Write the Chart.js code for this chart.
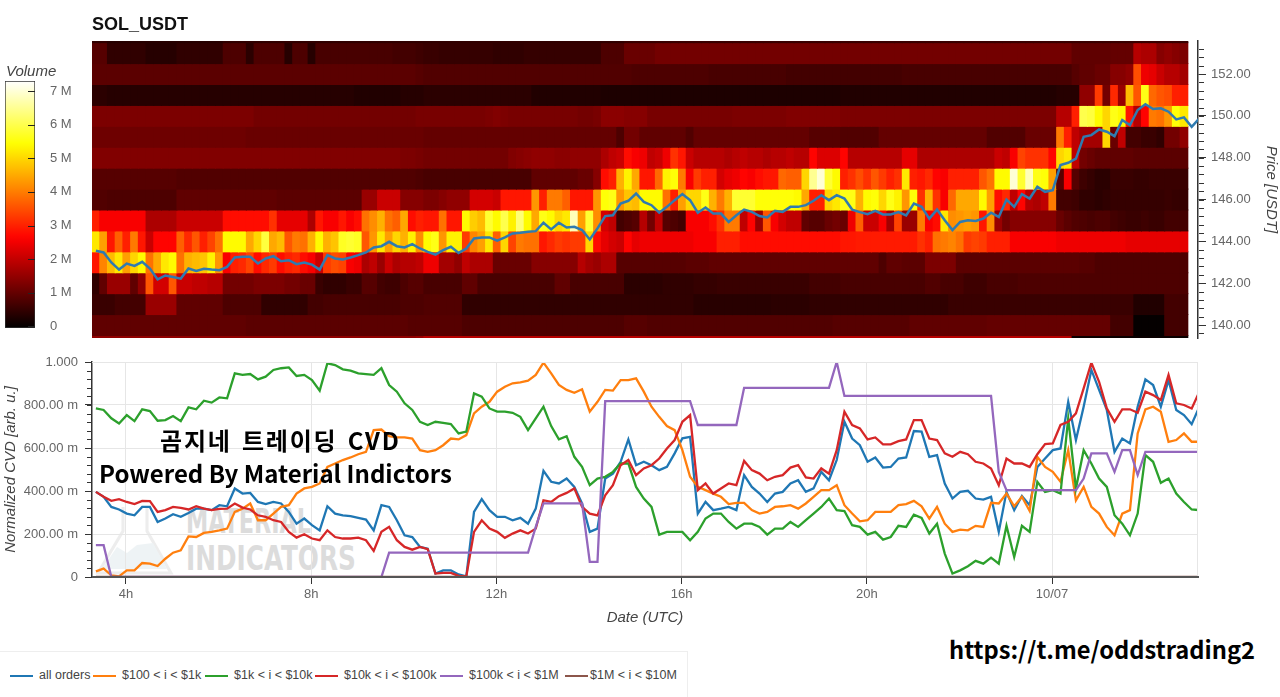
<!DOCTYPE html>
<html>
<head>
<meta charset="utf-8">
<title>SOL_USDT</title>
<script src="https://cdn.jsdelivr.net/npm/chart.js@4"></script>
<style>
  html, body { margin: 0; padding: 0; background: #fff; }
  #page { position: relative; width: 1280px; height: 697px; overflow: hidden; font-family: "Liberation Sans", Arial, sans-serif; }
  canvas { position: absolute; left: 0; }
  .txt { position: absolute; white-space: nowrap; }
  #title { left: 92px; top: 14px; font-size: 18px; font-weight: bold; color: #111; }
  #volTitle { left: 6px; top: 62px; font-size: 15px; font-style: italic; color: #444; }
  .over { font-family: "Noto Sans CJK KR", "Open Sans", sans-serif; font-weight: 700; color: #000; z-index: 5; }
  .wm { font-family: "DejaVu Sans Condensed", "DejaVu Sans", sans-serif; font-weight: bold; color: #dcdcdc; transform-origin: left top; }
  #legend { position: absolute; left: 0; top: 651px; width: 687px; height: 46px; border-top: 1px solid #eee; border-right: 1px solid #eee; }
  #legend div { position: absolute; top: 16px; font-size: 12.5px; color: #444; white-space: nowrap; }
  #legend i { position: absolute; top: 23px; height: 2px; width: 23px; }
</style>
</head>
<body>
<div id="page">
  <svg style="position:absolute;left:95px;top:505px;opacity:.7" width="82" height="74">
    <path d="M28 2 L28 26 L3 68 L76 68 L52 26 L52 2" fill="none" stroke="#e6e6e6" stroke-width="3"/>
    <path d="M7 64 L22 42 L32 48 L42 40 L58 38 L72 64 Z" fill="#e8eff2"/>
  </svg>
  <div class="txt wm" style="left:186px;top:501px;font-size:34px;transform:scaleX(.73)">MATERIAL</div>
  <div class="txt wm" style="left:186px;top:538px;font-size:34px;transform:scaleX(.81)">INDICATORS</div>
  <canvas id="heatChart" width="1280" height="358" style="top:0"></canvas>
  <canvas id="barChart" width="90" height="362" style="top:0"></canvas>
  <canvas id="cvdChart" width="1280" height="282" style="top:345px"></canvas>
  <div class="txt" id="title">SOL_USDT</div>
  <div class="txt" id="volTitle">Volume</div>
  <div class="txt over" style="left:160px;top:422px;font-size:24px;letter-spacing:1.8px;word-spacing:3px">곰지네 트레이딩 CVD</div>
  <div class="txt over" style="left:99px;top:455px;font-size:24px">Powered By Material Indictors</div>
  <div class="txt over" style="left:949px;top:632px;font-size:23.7px">https://t.me/oddstrading2</div>
  <div id="legend"></div>
</div>
<script>
// price rows of the heatmap, volume in M per 10 min column
const rowPrices = [154, 153, 152, 151, 150, 149, 148, 147, 146, 145, 144, 143, 142, 141, 140, 139];

const vol154 = [
0.5,0.5,0.4,0.4,0.4,0.4,0.4,0.4,0.4,0.4,0.4,0.4,0.4,0.4,0.4,0.4,0.4,0.5,0.5,0.5,
0.5,0.5,0.5,0.5,0.5,0.5,0.5,0.5,0.5,0.5,0.5,0.5,0.5,0.5,0.5,0.5,0.5,0.5,0.5,0.5,
0.5,0.5,0.5,0.5,0.5,0.5,0.5,0.5,0.5,0.5,0.5,0.5,0.5,0.5,0.5,0.5,0.5,0.5,0.5,0.5,
0.5,0.5,0.5,0.5,0.5,0.5,0.5,0.5,0.5,0.6,0.6,0.6,0.6,0.6,0.6,0.6,0.6,0.6,0.6,0.6,
0.6,0.6,0.6,0.6,0.6,0.6,0.6,0.6,0.6,0.6,0.6,0.6,0.6,0.6,0.6,0.6,0.6,0.6,0.6,0.6,
0.6,0.6,0.6,0.6,0.6,0.6,0.6,0.6,0.6,0.6,0.6,0.6,0.6,0.6,0.6,0.6,0.6,0.6,0.6,0.6,
0.6,0.6,0.6,0.6,0.6,0.6,0.6,0.6,0.6,0.6,0.6,0.6,0.6,0.6,0.6,0.6,0.6,0.6,0.6,0.6,
0.6,0.6];
const vol153 = [
0.9,0.9,0.5,0.5,0.5,0.5,0.5,0.4,0.4,0.4,0.4,0.5,0.5,0.5,0.5,0.5,0.5,0.8,0.8,0.8,
0.45,0.8,0.8,0.8,0.8,0.4,0.8,0.8,0.4,0.75,0.75,0.75,0.75,0.75,0.75,0.75,0.75,0.75,0.75,0.7,
0.7,0.7,0.65,0.6,0.6,0.55,0.55,0.55,0.55,0.55,0.55,0.55,0.5,0.5,0.5,0.5,0.55,0.55,0.55,0.55,
0.55,0.55,0.55,0.55,0.55,0.55,0.8,0.8,0.8,1.1,1.1,1.1,1.1,1.2,1.2,1.2,1.2,1.2,1.2,1.2,
1.2,1.2,1.2,1.2,1.2,1.2,1.2,1.2,1.2,1.2,1.2,1.2,1.2,1.2,1.2,1.2,1.2,1.2,1.2,1.2,
1.2,1.2,1.2,1.2,1.2,1.2,1.2,1.2,1.2,1.2,1.2,1.2,1.2,1.2,1.2,1.2,1.2,1.2,1.2,1.2,
1.2,1.2,1.2,1.2,1.2,1.2,1.2,1.0,1.0,1.0,1.0,1.0,1.05,1.05,1.05,1.9,1.8,1.8,1.4,1.5,
1.4,1.3];
const vol152 = [
0.95,0.95,0.95,0.95,0.95,0.95,0.95,0.95,0.95,0.95,0.95,0.95,0.95,0.95,0.95,0.95,0.95,0.95,0.95,0.95,
0.95,0.95,0.95,0.95,0.95,0.95,0.95,0.95,0.95,0.95,0.95,0.95,0.95,0.95,0.95,0.95,0.95,0.95,0.95,0.95,
0.95,0.95,0.9,0.85,0.85,0.85,0.85,0.85,0.85,0.85,0.85,0.85,0.85,0.85,0.85,0.85,0.85,0.85,0.85,0.85,
0.85,0.85,0.85,0.85,0.85,0.85,0.85,0.85,0.85,0.85,0.8,0.8,0.8,0.8,0.8,0.8,0.8,0.8,0.8,0.8,
0.75,0.75,0.75,0.75,0.75,0.75,0.75,0.75,0.75,0.75,0.7,0.7,0.7,0.7,0.7,0.7,0.7,0.7,0.7,0.7,
0.7,0.7,0.7,0.7,0.7,0.75,0.75,0.75,0.75,0.75,0.75,0.75,0.75,0.75,0.75,0.75,0.75,0.75,0.75,0.75,
0.75,0.75,0.75,0.75,0.75,0.75,0.75,0.9,1.0,1.0,1.1,1.1,1.4,1.4,1.5,3.5,2.5,2.4,2.1,1.9,
1.9,1.7];
const vol151 = [
0.45,0.45,0.4,0.4,0.4,0.4,0.4,0.4,0.4,0.4,0.4,0.4,0.4,0.4,0.4,0.4,0.4,0.4,0.4,0.4,
0.4,0.4,0.4,0.4,0.4,0.4,0.4,0.4,0.4,0.4,0.4,0.4,0.4,0.4,0.35,0.35,0.35,0.35,0.35,0.35,
0.4,0.4,0.4,0.45,0.45,0.45,0.45,0.45,0.45,0.45,0.45,0.45,0.45,0.45,0.45,0.45,0.45,0.35,0.35,0.35,
0.35,0.35,0.35,0.35,0.35,0.35,0.3,0.3,0.3,0.3,0.3,0.3,0.3,0.3,0.3,0.3,0.3,0.3,0.3,0.3,
0.3,0.3,0.3,0.3,0.3,0.3,0.3,0.3,0.3,0.3,0.3,0.3,0.3,0.3,0.3,0.3,0.3,0.35,0.35,0.35,
0.35,0.35,0.35,0.35,0.35,0.35,0.35,0.35,0.35,0.35,0.35,0.35,0.35,0.35,0.35,0.35,0.35,0.35,0.35,0.35,
0.35,0.35,0.35,0.35,0.35,0.4,0.4,0.4,1.5,1.5,3.3,1.2,3.1,1.6,4.7,3.6,5.6,3.8,3.6,3.5,
3.0,3.0];
const vol150 = [
1.3,1.3,1.3,1.3,1.3,1.3,1.3,1.3,1.3,1.3,1.3,1.3,1.3,1.3,1.3,1.3,1.3,1.3,1.3,1.3,
1.3,1.2,1.2,1.2,1.2,1.2,1.2,1.2,1.2,1.2,1.2,1.2,1.2,1.2,1.2,1.2,1.2,1.2,1.2,1.2,
1.2,1.2,1.25,1.25,1.25,1.25,1.25,1.25,1.25,1.25,1.25,1.3,1.35,1.3,1.25,1.25,1.25,1.25,1.25,1.25,
1.25,1.25,1.25,1.2,1.2,1.25,1.45,1.45,1.45,1.4,1.4,1.4,1.25,1.25,1.25,1.25,1.25,1.25,1.25,1.25,
1.25,1.25,1.25,1.3,1.3,1.3,1.3,1.3,1.3,1.3,1.35,1.35,1.35,1.35,1.35,1.35,1.35,1.3,1.3,1.3,
1.3,1.3,1.3,1.3,1.3,1.3,1.3,1.3,1.3,1.3,1.3,1.3,1.3,1.3,1.3,1.3,1.3,1.3,1.3,1.3,
1.3,1.3,1.3,1.3,1.3,1.9,1.9,3.0,6.0,5.9,5.4,5.0,5.6,5.4,2.9,1.9,2.7,4.0,3.9,4.3,
5.5,5.2];
const vol149 = [
1.15,1.15,1.15,1.15,1.15,1.15,1.15,1.15,1.15,1.15,1.15,1.15,1.15,1.15,1.15,1.15,1.15,1.15,1.15,1.15,
1.1,1.1,1.1,1.1,1.1,1.1,1.1,1.1,1.1,1.1,1.1,1.1,1.1,1.1,1.1,1.1,1.1,1.1,1.1,1.1,
1.1,1.1,1.1,1.05,1.05,1.05,1.05,1.05,1.05,1.05,1.05,1.05,1.05,1.05,1.05,1.05,1.05,1.05,1.05,1.05,
1.05,1.05,1.05,1.05,1.05,1.05,1.05,1.05,0.8,1.2,1.2,1.0,1.0,1.0,1.0,1.0,1.0,0.85,1.05,1.05,
1.05,1.05,1.05,1.05,1.05,1.05,1.05,1.05,1.05,1.05,1.05,1.05,1.05,0.9,0.9,0.9,0.9,0.85,0.85,0.85,
0.85,0.85,1.05,1.05,1.05,1.05,1.05,1.05,1.05,1.05,1.05,1.05,1.05,1.05,1.05,1.05,0.85,0.85,0.85,0.85,
0.85,1.1,1.1,1.1,1.1,4.0,3.0,2.0,1.7,1.7,1.7,5.0,1.1,2.0,0.7,0.7,0.6,0.6,0.5,1.2,
1.2,1.5];
const vol148 = [
1.35,1.35,1.35,1.35,1.35,1.35,1.35,1.35,1.35,1.35,1.35,1.35,1.35,1.35,1.35,1.35,1.35,1.35,1.35,1.35,
1.35,1.35,1.35,1.35,1.35,1.35,1.35,1.35,1.35,1.35,1.35,1.35,1.35,1.35,1.35,1.35,1.35,1.35,1.35,1.35,
1.3,1.3,1.25,1.2,1.2,1.2,1.2,1.2,1.2,1.2,1.2,1.2,1.2,1.2,1.35,1.4,1.45,1.5,1.5,1.5,
1.45,1.45,1.5,1.5,1.5,1.5,1.8,2.0,2.1,2.8,2.6,2.5,2.0,2.1,2.5,3.2,2.9,2.1,1.9,1.9,
1.9,1.9,1.8,1.9,2.0,1.9,1.9,1.8,1.9,1.9,2.0,1.9,1.9,2.7,2.3,2.3,2.3,2.7,1.9,1.9,
1.9,1.9,1.9,1.9,1.9,2.4,2.4,1.8,1.8,1.8,1.8,1.8,1.8,1.8,1.8,1.8,1.8,2.1,2.0,2.6,
3.4,3.2,3.2,3.2,2.7,5.0,5.2,2.0,1.2,1.1,1.0,1.0,1.0,1.0,1.0,0.95,0.95,0.95,0.95,0.95,
0.95,0.95];
const vol147 = [
0.9,0.9,0.9,0.9,0.9,0.9,0.9,0.9,0.9,0.9,0.9,0.85,0.85,0.85,0.85,0.85,0.85,0.85,0.85,0.85,
0.85,0.85,0.85,0.85,0.85,0.85,0.85,0.85,0.85,0.85,0.85,0.85,0.85,0.85,0.85,0.85,0.85,0.85,0.85,0.85,
0.85,0.85,0.8,0.75,0.75,0.75,0.75,0.75,0.75,0.75,0.75,0.75,0.75,0.75,0.75,0.75,0.75,1.0,1.0,1.0,
1.0,1.0,1.0,1.1,1.1,1.4,2.8,3.0,4.6,5.3,4.5,2.9,2.9,3.8,5.3,5.5,4.0,2.6,3.3,3.0,
3.0,2.2,2.4,2.5,2.7,2.6,2.8,2.9,2.9,3.8,3.7,3.7,5.0,6.5,7.0,5.8,5.4,3.0,3.2,3.5,
3.2,3.6,3.3,3.0,3.2,5.2,3.0,2.9,3.1,2.7,2.6,3.0,3.0,3.0,3.0,3.6,3.9,5.4,5.4,7.0,
5.8,6.8,5.6,5.5,4.4,0.95,2.6,0.9,0.65,0.55,0.45,0.45,0.6,0.6,0.6,0.55,0.55,0.6,0.6,0.6,
0.6,0.6];
const vol146 = [
0.85,0.85,0.8,0.8,0.8,0.8,0.8,0.8,0.8,0.8,0.8,1.0,1.0,1.0,1.0,1.0,1.0,1.0,1.0,1.0,
1.0,1.0,1.0,1.0,0.95,0.95,0.95,0.95,0.95,0.95,0.95,0.95,0.95,0.95,0.95,1.6,1.6,2.1,2.1,2.1,
1.4,1.4,1.4,1.3,1.3,1.4,1.5,1.5,1.5,2.2,2.2,2.2,2.1,2.9,2.9,2.9,2.9,4.3,3.0,4.0,
4.0,3.7,2.9,2.9,2.9,4.3,5.5,5.6,4.3,4.8,4.7,5.4,5.4,5.4,3.9,3.0,4.4,5.0,5.0,5.6,
4.6,4.0,4.6,5.8,5.8,5.8,5.5,5.5,5.5,5.5,5.5,5.4,4.5,3.0,3.0,5.0,5.2,5.6,5.6,4.6,
5.4,5.5,5.0,5.6,5.3,4.3,5.5,3.2,4.6,3.2,2.6,3.8,4.5,4.5,4.5,5.4,4.4,2.8,3.1,2.0,
2.7,1.9,1.8,2.0,4.0,0.7,0.7,0.65,0.5,0.5,0.45,0.5,0.55,0.55,0.55,0.55,0.55,0.55,0.55,0.6,
0.55,0.55];
const vol145 = [
3.0,2.6,2.6,2.6,2.6,2.6,2.6,1.8,1.8,1.8,1.8,2.1,2.1,2.1,2.1,2.1,2.1,2.8,2.8,2.8,
2.8,2.8,2.8,3.2,2.4,2.4,2.4,2.4,1.8,2.9,2.6,2.6,2.9,2.6,2.8,3.9,4.2,4.6,3.9,3.7,
4.5,2.8,3.0,2.9,2.9,3.9,2.9,2.9,5.4,4.9,4.7,5.8,5.4,6.0,5.3,6.3,5.4,4.5,5.6,5.4,
5.0,5.2,6.8,4.4,5.8,4.2,2.2,2.0,0.7,0.8,0.9,1.9,1.2,2.0,0.9,0.8,0.7,2.6,2.6,2.6,
2.8,3.2,4.0,4.0,2.0,2.7,1.6,3.6,2.6,2.2,2.0,2.0,1.0,0.9,0.9,1.1,1.2,1.1,2.5,3.7,
2.1,2.1,2.6,1.7,3.4,1.6,1.6,4.0,2.6,2.8,5.2,4.2,4.3,4.4,4.3,2.9,4.2,1.6,1.2,1.4,
1.4,1.4,1.4,1.4,1.4,1.1,0.95,0.85,0.8,0.75,0.8,0.8,0.7,0.65,0.6,0.6,0.65,0.6,0.6,0.7,
0.7,0.7];
const vol144 = [
5.2,4.4,2.9,3.7,3.0,4.0,2.9,2.1,2.7,2.7,2.7,3.7,3.1,3.6,3.0,3.4,3.9,5.4,5.4,5.4,
4.5,5.0,5.9,4.5,4.7,3.6,4.0,3.9,4.6,5.4,4.6,4.8,5.7,5.8,5.7,3.6,4.3,5.2,4.4,5.0,
4.6,5.3,4.2,5.4,5.6,4.3,5.3,5.3,3.3,4.1,4.4,5.2,3.7,5.0,3.4,4.0,3.9,3.9,2.9,3.1,
3.3,3.2,3.3,3.3,5.0,2.8,2.4,2.2,2.1,2.7,2.4,2.5,2.5,2.5,2.5,2.5,2.5,2.5,2.6,2.6,
2.6,3.0,3.0,3.0,2.8,2.8,2.8,2.8,2.8,2.8,2.8,2.8,2.8,2.8,2.8,2.8,2.8,2.9,2.9,2.95,
2.95,2.95,2.95,2.95,2.95,2.95,2.95,3.2,3.0,3.9,4.0,4.1,3.9,3.3,3.4,3.3,3.0,3.0,3.0,2.6,
2.6,2.6,2.6,2.6,2.6,2.5,2.5,2.5,2.5,2.5,2.5,2.5,2.5,2.5,2.4,2.4,2.4,2.4,2.4,2.4,
2.4,2.4];
const vol143 = [
2.9,4.1,4.7,5.2,4.4,5.0,5.4,3.9,4.5,5.2,5.4,3.9,4.6,4.7,4.8,5.3,4.3,2.6,3.0,3.1,
3.4,2.8,3.1,3.3,2.8,3.0,3.1,2.8,2.6,2.1,3.3,3.5,3.4,2.6,2.5,1.8,2.0,1.6,2.1,1.8,
1.9,1.9,2.0,2.5,2.5,1.7,1.7,1.5,2.0,1.8,1.8,1.8,1.1,1.1,1.1,1.1,1.1,1.4,1.4,1.4,
1.4,1.4,1.4,1.9,1.7,1.6,1.8,1.8,0.9,0.9,0.9,0.9,0.9,0.9,0.9,0.9,0.9,0.95,0.95,0.95,
1.0,1.0,1.0,1.0,1.0,1.0,1.0,1.0,1.0,1.0,1.0,1.0,1.0,1.0,1.0,1.0,1.0,1.0,1.0,1.0,
1.0,1.0,0.8,1.0,1.0,0.95,0.95,0.95,1.3,1.3,1.3,1.3,0.95,0.95,0.95,0.95,0.95,0.95,0.95,0.95,
0.95,0.95,0.95,0.95,0.95,0.95,0.95,0.95,0.9,0.9,0.8,0.8,0.8,0.8,0.8,0.8,0.8,0.8,0.8,0.8,
0.8,0.8];
const vol142 = [
0.5,1.0,1.6,1.6,1.6,1.0,1.5,3.6,2.2,2.2,3.6,2.1,2.1,2.0,2.0,1.9,1.9,1.2,1.2,1.2,
1.2,1.3,1.3,1.3,1.3,1.2,1.2,1.1,1.1,0.6,0.5,0.5,0.5,0.6,0.6,0.9,0.9,0.7,0.65,0.65,
0.8,0.9,0.9,0.75,0.75,0.75,0.75,0.75,1.0,1.0,0.75,0.75,0.75,0.75,0.75,0.75,0.75,0.75,0.75,0.75,
1.0,1.0,0.75,0.75,0.75,0.75,0.75,0.75,0.75,0.45,0.45,0.45,0.45,0.45,0.5,0.5,0.5,0.5,0.55,0.55,
0.55,0.6,0.6,0.6,0.6,0.6,0.6,0.6,0.6,0.6,0.6,0.6,0.6,0.7,0.7,0.7,0.7,0.75,0.75,0.75,
0.75,0.75,0.75,0.75,0.75,0.75,0.75,0.75,0.85,0.85,0.75,0.75,0.75,0.65,0.65,0.65,0.75,0.75,0.75,0.75,
0.8,0.8,0.8,0.8,0.8,0.8,0.8,0.8,0.8,0.8,0.8,0.8,0.8,0.8,0.8,0.8,0.8,0.8,0.8,0.8,
0.8,0.8];
const vol141 = [
0.6,0.6,0.6,0.7,0.7,0.7,0.7,1.6,1.6,1.6,1.6,1.0,1.0,1.0,1.0,1.0,1.0,0.8,0.8,0.8,
0.8,0.8,0.5,0.5,0.5,0.5,0.5,0.5,0.7,0.7,0.75,0.75,0.75,0.75,0.75,0.75,0.75,0.75,0.75,0.75,
0.8,0.8,0.8,0.85,0.85,0.85,0.85,0.85,0.5,0.5,0.5,0.5,0.5,0.5,0.5,0.5,0.5,0.5,0.5,0.5,
0.5,0.5,0.5,0.5,0.5,0.5,0.5,0.5,0.5,0.5,0.5,0.5,0.5,0.5,0.5,0.5,0.5,0.5,0.42,0.42,
0.42,0.42,0.42,0.42,0.42,0.42,0.42,0.42,0.45,0.45,0.45,0.45,0.45,0.5,0.5,0.5,0.5,0.5,0.5,0.5,
0.5,0.5,0.5,0.5,0.5,0.5,0.5,0.5,0.5,0.5,0.5,0.6,0.6,0.6,0.6,0.6,0.6,0.6,0.6,0.6,
0.6,0.6,0.6,0.6,0.6,0.6,0.6,0.6,0.6,0.6,0.6,0.6,0.6,0.6,0.6,0.35,0.35,0.35,0.35,0.7,
0.7,0.7];
const vol140 = [
1.0,1.0,1.0,1.0,1.0,1.0,1.0,1.0,1.0,1.0,1.0,1.0,1.0,1.0,1.0,1.0,1.0,1.0,1.0,1.0,
0.95,0.95,0.95,0.95,0.95,0.95,0.95,0.95,0.95,0.95,0.95,0.95,0.95,0.95,0.95,0.95,0.95,0.95,0.95,0.95,
0.95,0.9,0.9,0.9,0.9,0.9,0.9,0.9,0.8,0.8,0.8,0.8,0.8,0.8,0.8,0.8,0.8,0.8,0.8,0.8,
0.8,0.8,0.8,0.8,0.8,0.8,0.8,0.8,0.8,0.9,0.9,0.9,0.85,0.85,0.85,0.85,0.85,0.85,0.85,0.85,
0.85,0.85,0.85,0.85,0.85,0.85,0.85,0.85,0.85,0.85,0.85,0.85,0.85,0.85,0.85,0.85,0.9,0.9,0.9,0.9,
0.9,0.9,0.9,0.9,0.9,0.9,1.0,1.0,1.0,1.0,1.0,1.0,1.0,1.0,1.0,1.0,1.05,1.05,1.05,1.05,
1.05,1.05,1.05,1.05,1.05,1.05,1.05,1.05,1.05,1.05,1.05,1.05,0.7,0.7,0.7,0.05,0.05,0.05,0.05,0.7,
0.7,0.7];
const vol139 = [
1.5,1.5,1.5,1.5,1.5,1.5,1.5,1.5,1.5,1.5,1.5,1.5,1.5,1.5,1.5,1.5,1.5,1.5,1.5,1.5,
1.5,1.5,1.5,1.5,1.5,1.5,1.5,1.5,1.5,1.5,1.5,1.5,1.5,1.5,1.5,1.5,1.5,1.5,1.5,1.5,
1.5,1.5,1.6,1.9,1.9,1.9,1.9,1.9,1.9,1.9,1.9,1.9,1.9,1.9,1.9,1.9,1.9,1.9,1.9,1.9,
1.9,1.9,1.9,1.9,1.9,1.9,1.9,1.9,1.9,1.9,1.9,1.9,1.9,1.9,1.9,1.9,1.9,1.9,1.9,1.9,
1.9,1.9,1.9,1.9,1.9,1.9,1.9,1.9,1.9,1.9,1.9,1.9,1.9,1.9,1.9,1.9,1.9,1.9,1.9,1.9,
1.9,1.9,1.9,1.9,1.9,1.9,1.9,1.9,1.9,1.9,1.9,1.9,1.9,1.9,1.9,1.9,1.9,1.9,1.9,1.9,
1.9,1.9,1.9,1.9,1.9,1.9,1.9,0.1,0.1,0.1,0.1,0.1,0.1,0.1,0.1,0.1,0.1,0.1,0.1,0.1,
0.1,0.1];
const volumeRows = [vol154, vol153, vol152, vol151, vol150, vol149, vol148, vol147, vol146, vol145, vol144, vol143, vol142, vol141, vol140, vol139];

// last price, one point per 10 min
const price = [
143.55,143.47,142.99,142.65,142.94,142.83,143.02,142.70,142.18,142.37,142.30,142.22,142.70,142.59,142.69,142.65,142.62,142.78,143.23,143.26,
143.26,142.94,143.18,143.29,143.05,143.10,142.91,142.99,142.89,142.65,143.34,143.18,143.13,143.23,143.34,143.47,143.71,143.77,143.98,143.77,
143.71,143.87,143.66,143.50,143.37,143.58,143.74,143.45,143.66,144.14,144.19,144.19,144.03,144.19,144.38,144.41,144.46,144.49,144.89,144.57,
144.89,144.66,144.70,144.54,144.09,144.62,145.21,145.25,145.81,145.94,146.29,145.89,145.73,145.37,145.65,145.97,146.26,145.97,145.37,145.62,
145.33,145.33,144.93,145.25,145.52,145.41,145.21,145.14,145.46,145.41,145.65,145.65,145.73,145.94,146.21,145.97,146.21,146.05,145.52,145.40,
145.30,145.46,145.29,145.29,145.40,145.24,145.81,145.65,145.09,145.52,145.01,144.54,144.93,145.01,144.98,145.09,145.37,145.17,146.00,145.65,
146.26,146.05,146.61,146.37,146.45,147.65,147.76,147.96,149.00,149.08,149.35,149.24,149.03,149.80,149.56,150.28,150.56,150.33,150.36,150.20,
149.83,149.93,149.48,149.88];

// normalized CVD in milli units, one point per 10 min
const cvdAll = [
396,373,326,314,295,287,326,326,256,272,292,280,298,318,318,311,334,329,412,388,
391,349,339,349,342,303,248,272,241,217,329,295,287,283,275,267,217,334,326,264,
194,186,140,132,16,31,31,12,3,303,362,311,280,280,264,275,248,318,494,443,
435,458,419,342,210,225,458,481,536,640,520,536,520,497,512,575,645,652,295,349,
311,318,326,311,474,419,388,349,388,396,435,450,396,412,489,450,544,722,644,613,
536,556,509,512,551,556,679,676,559,567,435,365,396,401,365,360,373,210,396,311,
377,334,512,551,590,598,815,637,792,963,870,777,582,644,621,792,919,893,792,916,
777,753,711,792];
const cvd100 = [
26,39,8,3,31,31,65,62,51,85,113,124,189,186,205,210,217,225,303,318,
342,264,264,295,326,334,388,412,419,435,512,528,544,556,571,582,683,686,655,649,
649,644,590,582,590,613,644,640,660,761,792,815,862,885,901,905,913,940,997,947,
893,870,857,873,769,815,870,867,916,916,924,862,792,745,702,683,590,466,419,404,
388,373,339,345,345,311,295,303,326,329,334,318,342,373,404,404,427,334,295,259,
264,303,303,303,334,339,354,329,272,326,248,210,220,217,238,233,345,342,388,329,
373,307,559,512,489,443,590,357,419,326,295,233,194,295,311,668,780,792,769,629,
637,668,629,629];
const cvd1k = [
784,777,738,714,753,725,780,772,727,730,749,725,789,780,820,811,835,831,947,940,
944,919,932,963,971,975,935,940,916,867,994,986,966,960,947,944,940,971,893,862,
808,777,722,707,722,717,711,668,676,854,839,784,769,769,764,745,683,738,792,702,
640,655,559,512,427,458,466,489,528,528,419,365,326,197,210,210,210,171,210,272,
295,295,256,225,248,248,233,197,225,225,256,233,264,295,326,365,311,307,241,233,
197,210,174,186,238,233,290,275,202,248,109,16,31,50,75,62,90,62,238,93,
238,210,443,396,404,388,738,412,590,528,458,419,287,248,194,295,567,536,438,458,
388,349,314,311];
const cvd10k = [
396,373,354,362,349,339,354,353,303,311,326,321,314,329,318,311,317,318,342,323,
314,287,280,264,256,210,183,199,179,171,217,186,179,179,183,171,121,210,233,171,
140,127,140,129,16,19,19,5,3,210,264,225,210,182,202,217,202,225,357,349,
376,391,412,326,295,287,380,427,520,544,474,505,520,551,598,637,722,753,404,435,
388,412,435,427,540,497,481,450,466,474,509,520,463,458,505,481,590,769,707,691,
640,649,617,617,632,640,730,730,644,637,575,559,582,571,536,528,505,427,551,528,
528,512,571,618,621,707,722,761,877,997,908,784,722,780,780,764,862,846,823,940,
808,800,784,862];
const cvd100k = [
148,148,0,0,0,0,0,0,0,0,0,0,0,0,0,0,0,0,0,0,
0,0,0,0,0,0,0,0,0,0,0,0,0,0,0,0,0,0,113,113,
113,113,113,113,113,113,113,113,113,113,113,113,113,113,113,113,113,233,342,342,
342,342,342,342,70,70,818,818,818,818,818,818,818,818,818,818,818,818,707,707,
707,707,707,707,880,880,880,880,880,880,880,880,880,880,880,880,1000,842,842,842,
842,842,842,842,842,842,842,842,842,842,842,842,842,842,842,842,842,489,404,404,
404,404,404,404,404,404,404,404,458,575,575,575,489,590,590,474,582,582,582,582,
582,582,582,582];
const cvd1m = [
0,0,0,0,0,0,0,0,0,0,0,0,0,0,0,0,0,0,0,0,
0,0,0,0,0,0,0,0,0,0,0,0,0,0,0,0,0,0,0,0,
0,0,0,0,0,0,0,0,0,0,0,0,0,0,0,0,0,0,0,0,
0,0,0,0,0,0,0,0,0,0,0,0,0,0,0,0,0,0,0,0,
0,0,0,0,0,0,0,0,0,0,0,0,0,0,0,0,0,0,0,0,
0,0,0,0,0,0,0,0,0,0,0,0,0,0,0,0,0,0,0,0,
0,0,0,0,0,0,0,0,0,0,0,0,0,0,0,0,0,0,0,0,
0,0,0,0];

const seriesNames = ['all orders', '$100 < i < $1k', '$1k < i < $10k', '$10k < i < $100k', '$100k < i < $1M', '$1M < i < $10M'];
const seriesColors = ['#1f77b4', '#ff7f0e', '#2ca02c', '#d62728', '#9467bd', '#8c564b'];
const seriesValues = [cvdAll, cvd100, cvd1k, cvd10k, cvd100k, cvd1m];

const hourTicks = [4, 8, 12, 16, 20, 24];
const hourLabels = ['4h', '8h', '12h', '16h', '20h', '10/07'];
const priceTicks = [140, 142, 144, 146, 148, 150, 152];
const cvdTicks = [0, 200, 400, 600, 800, 1000];
const cvdLabels = ['0', '200.00 m', '400.00 m', '600.00 m', '800.00 m', '1.000'];
const volTicks = [0, 1, 2, 3, 4, 5, 6, 7];

const VMAX = 7.3;
const HOUR_MIN = 3.266, HOUR_MAX = 27.153;
const times = price.map((p, i) => 3.35 + i / 6);

function clamp01(v) { return Math.max(0, Math.min(1, v)); }
function hot(v) {
    const t = v / VMAX;
    const r = clamp01(t / 0.365), g = clamp01((t - 0.365) / 0.381), b = clamp01((t - 0.746) / 0.254);
    return `rgb(${Math.round(r * 255)},${Math.round(g * 255)},${Math.round(b * 255)})`;
}

// small ticks between the big ones, bokeh style
const minorTicks = {
    id: 'minorTicks',
    afterDraw(chart, args, opts) {
        const s = chart.scales.y, c = chart.ctx;
        c.save();
        c.strokeStyle = '#333';
        c.lineWidth = 1;
        for (let v = opts.start; v <= s.max; v += opts.step) {
            const y = Math.round(s.getPixelForValue(v)) + 0.5;
            c.beginPath();
            c.moveTo(opts.x0, y);
            c.lineTo(opts.x1, y);
            c.stroke();
        }
        if (opts.frame) {
            const a = chart.chartArea;
            c.strokeStyle = '#e6e6e6';
            c.beginPath();
            c.moveTo(a.left, a.top + 0.5);
            c.lineTo(a.right - 0.5, a.top + 0.5);
            c.lineTo(a.right - 0.5, a.bottom);
            c.stroke();
            // the axis sits on top of the flat series
            c.strokeStyle = '#555';
            c.lineWidth = 2;
            c.beginPath();
            c.moveTo(a.left, a.bottom);
            c.lineTo(a.right, a.bottom);
            c.stroke();
        }
        c.restore();
    }
};

const fontTick = { family: '"Liberation Sans", Arial, sans-serif', size: 13 };
const fontTitle = { family: '"Liberation Sans", Arial, sans-serif', size: 15, style: 'italic' };

// ---- heatmap + price line
const heatSets = volumeRows.map((row, r) => ({
    type: 'bar',
    grouped: false,
    order: 1,
    data: row.map((v, i) => ({ x: times[i], y: [rowPrices[r] - 0.5, rowPrices[r] + 0.5] })),
    backgroundColor: row.map(hot),
    borderWidth: 0,
    inflateAmount: 0.5,
    barPercentage: 1,
    categoryPercentage: 1
}));

new Chart(document.getElementById('heatChart'), {
    type: 'bar',
    data: {
        datasets: heatSets.concat([{
            type: 'line',
            order: 0,
            data: price.map((p, i) => ({ x: times[i], y: p })),
            borderColor: '#2f7bb0',
            borderWidth: 2.5,
            pointRadius: 0,
            tension: 0
        }])
    },
    options: {
        responsive: false,
        animation: false,
        layout: { padding: { left: 92, top: 41, bottom: 20 } },
        plugins: { legend: { display: false }, tooltip: { enabled: false }, minorTicks: { start: 139.6, step: 0.4, x0: 1199, x1: 1204 } },
        scales: {
            x: { type: 'linear', display: false, offset: false, min: HOUR_MIN, max: HOUR_MAX },
            y: {
                position: 'right',
                min: 139.38,
                max: 153.58,
                afterBuildTicks: s => { s.ticks = priceTicks.map(v => ({ value: v })); },
                afterFit: s => { s.width = 82; },
                grid: { drawOnChartArea: false, tickColor: '#333', tickLength: 8 },
                border: { color: '#333', width: 1.5 },
                ticks: { color: '#666', font: fontTick, padding: 5, callback: v => v.toFixed(2) },
                title: { display: true, text: 'Price [USDT]', color: '#444', font: fontTitle, padding: { top: 0, bottom: 5 } }
            }
        }
    },
    plugins: [minorTicks]
});

// ---- colour bar
new Chart(document.getElementById('barChart'), {
    type: 'bar',
    data: {
        labels: ['Volume'],
        datasets: [{
            data: [[-0.05, VMAX]],
            barPercentage: 1,
            categoryPercentage: 1,
            borderColor: '#333',
            borderWidth: 1,
            borderSkipped: false,
            backgroundColor: ctx => {
                const a = ctx.chart.chartArea;
                if (!a) return '#000';
                const g = ctx.chart.ctx.createLinearGradient(0, a.bottom, 0, a.top);
                for (let i = 0; i <= 40; i++) g.addColorStop(i / 40, hot(VMAX * i / 40));
                return g;
            }
        }]
    },
    options: {
        responsive: false,
        animation: false,
        layout: { padding: { left: 5, top: 81, bottom: 34 } },
        plugins: { legend: { display: false }, tooltip: { enabled: false } },
        scales: {
            x: { display: false },
            y: {
                position: 'right',
                min: -0.05,
                max: VMAX,
                afterBuildTicks: s => { s.ticks = volTicks.map(v => ({ value: v })); },
                afterFit: s => { s.width = 55; },
                grid: { display: false },
                border: { display: false },
                ticks: { color: '#666', font: fontTick, padding: 7, callback: v => v === 0 ? '0' : v + ' M' }
            }
        }
    },
    plugins: [{
        id: 'barTicks',
        afterDraw(chart) {
            const s = chart.scales.y, c = chart.ctx;
            c.save();
            c.strokeStyle = '#222';
            volTicks.forEach(v => {
                const y = Math.round(s.getPixelForValue(v)) + 0.5;
                c.beginPath();
                c.moveTo(28, y);
                c.lineTo(35, y);
                c.stroke();
            });
            c.restore();
        }
    }]
});

// ---- CVD lines
new Chart(document.getElementById('cvdChart'), {
    type: 'line',
    data: {
        datasets: seriesNames.map((name, k) => ({
            label: name,
            order: seriesNames.length - k,
            data: seriesValues[k].map((v, i) => ({ x: times[i], y: v })),
            borderColor: seriesColors[k],
            borderWidth: 2.3,
            pointRadius: 0,
            tension: 0
        }))
    },
    options: {
        responsive: false,
        animation: false,
        layout: { padding: { top: 17, right: 82 } },
        plugins: { legend: { display: false }, tooltip: { enabled: false }, minorTicks: { start: 0, step: 40, x0: 87, x1: 92, frame: true } },
        scales: {
            x: {
                type: 'linear',
                min: HOUR_MIN,
                max: HOUR_MAX,
                afterBuildTicks: s => { s.ticks = hourTicks.map(v => ({ value: v })); },
                afterFit: s => { s.height = 50; },
                grid: { color: '#e6e6e6', tickColor: '#333', tickLength: 7 },
                border: { color: '#555', width: 2 },
                ticks: { color: '#666', font: fontTick, padding: 3, maxRotation: 0, autoSkip: false, callback: v => hourLabels[hourTicks.indexOf(v)] },
                title: { display: true, text: 'Date (UTC)', color: '#444', font: fontTitle, padding: { top: 6, bottom: 0 } }
            },
            y: {
                min: 0,
                max: 1000,
                afterBuildTicks: s => { s.ticks = cvdTicks.map(v => ({ value: v })); },
                afterFit: s => { s.width = 92; },
                grid: { color: '#e6e6e6', tickColor: '#333', tickLength: 7 },
                border: { color: '#333', width: 1.5 },
                ticks: { color: '#666', font: fontTick, padding: 7, callback: v => cvdLabels[cvdTicks.indexOf(v)] },
                title: { display: true, text: 'Normalized CVD [arb. u.]', color: '#444', font: fontTitle, padding: { top: 2, bottom: 0 } }
            }
        }
    },
    plugins: [minorTicks]
});

// legend below the plots
const legendBox = document.getElementById('legend');
const swatchX = [10, 93, 205, 315, 440, 565];
seriesNames.forEach((name, k) => {
    const sw = document.createElement('i');
    sw.style.left = swatchX[k] + 'px';
    sw.style.background = seriesColors[k];
    legendBox.appendChild(sw);
    const t = document.createElement('div');
    t.style.left = (swatchX[k] + (k === 5 ? 25 : 29)) + 'px';
    t.textContent = name;
    legendBox.appendChild(t);
});
</script>
</body>
</html>
